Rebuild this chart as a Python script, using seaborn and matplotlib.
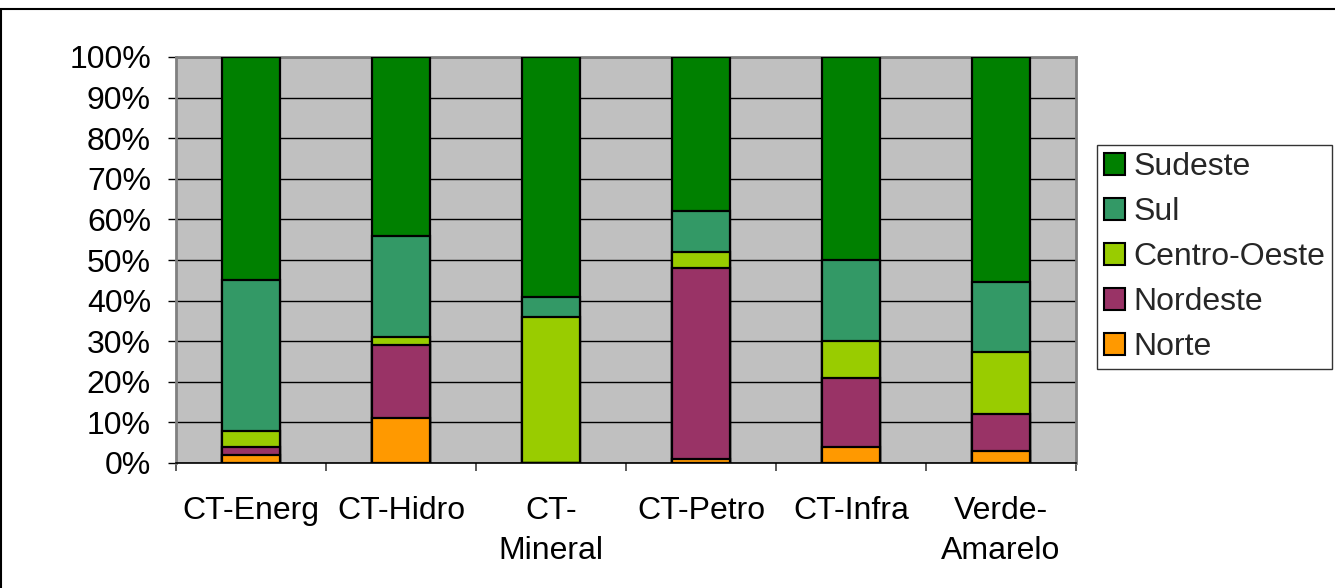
import matplotlib
matplotlib.use("Agg")
import matplotlib.pyplot as plt
from matplotlib.lines import Line2D
from matplotlib.patches import Patch
import seaborn as sns
import pandas as pd
import numpy as np

categories = ["CT-Energ", "CT-Hidro", "CT-\nMineral", "CT-Petro", "CT-Infra", "Verde-\nAmarelo"]
norte = [2, 11, 0, 1, 4, 3]
nordeste = [2, 18, 0, 47, 17, 9]
centro_oeste = [4, 2, 36, 4, 9, 15.4]
sul = [37, 25, 5, 10, 20, 17.3]
sudeste = [55, 44, 59, 38, 50, 55.3]

series_names = ["Norte", "Nordeste", "Centro-Oeste", "Sul", "Sudeste"]
series_vals = [norte, nordeste, centro_oeste, sul, sudeste]
colors = {"Norte": "#FF9900", "Nordeste": "#993366", "Centro-Oeste": "#99CC00",
          "Sul": "#339966", "Sudeste": "#008000"}

sns.set_theme(style="white")
plt.rcParams["font.family"] = ["Liberation Sans", "DejaVu Sans"]

FS = 23

fig = plt.figure(figsize=(13.35, 5.88), dpi=100)
ax = fig.add_axes([176/1335, 1-463/588, 900/1335, 406/588])
ax.set_facecolor("#C0C0C0")

vals = np.array(series_vals, dtype=float)
totals = vals.sum(axis=0)
cum = np.cumsum(vals, axis=0)
cum_pct = cum / totals * 100

# draw cumulative bars from top layer to bottom layer
for i in range(len(series_names) - 1, -1, -1):
    df = pd.DataFrame({"cat": categories, "v": cum_pct[i]})
    sns.barplot(data=df, x="cat", y="v", color=colors[series_names[i]],
                saturation=1, width=0.39, edgecolor="black", linewidth=1.6,
                ax=ax, zorder=3, errorbar=None)

ax.set_xlim(-0.5, len(categories) - 0.5)
ax.set_ylim(0, 100)
ax.set_xlabel("")
ax.set_ylabel("")

yt = np.arange(0, 101, 10)
ax.set_yticks(yt)
ax.set_yticklabels([f"{t}%" for t in yt], fontsize=FS)
ax.yaxis.grid(True, color="black", linewidth=1.0, zorder=1)
ax.set_axisbelow(True)
ax.tick_params(axis="y", which="major", length=6, width=1, color="black",
               pad=12, left=True, labelcolor="black")

ax.set_xticks(np.arange(-0.5, len(categories), 1.0))
ax.set_xticklabels([])
ax.set_xticks(np.arange(len(categories)), minor=True)
ax.set_xticklabels(categories, minor=True, fontsize=FS, linespacing=1.42)
ax.tick_params(axis="x", which="major", length=6, width=1.2, color="#404040", bottom=True)
ax.tick_params(axis="x", which="minor", length=0, pad=24, labelcolor="black")

for s in ["left", "top", "right"]:
    ax.spines[s].set_color("#808080")
    ax.spines[s].set_linewidth(2)
    ax.spines[s].set_visible(True)
ax.spines["bottom"].set_color("black")
ax.spines["bottom"].set_linewidth(1.2)

legend_order = ["Sudeste", "Sul", "Centro-Oeste", "Nordeste", "Norte"]
handles = [Patch(facecolor=colors[n], edgecolor="black", linewidth=1.5) for n in legend_order]
leg = fig.legend(handles, legend_order, loc="upper left",
                 bbox_to_anchor=(1097/1335, 1-145/588), bbox_transform=fig.transFigure,
                 fontsize=FS, frameon=True, fancybox=False, shadow=False,
                 handlelength=0.66, handleheight=0.66, handletextpad=0.25,
                 labelspacing=0.47, borderpad=0.22, borderaxespad=0)
leg.get_frame().set_edgecolor("black")
leg.get_frame().set_linewidth(1.0)
leg.get_frame().set_facecolor("white")

fig.add_artist(Line2D([0, 1], [1-9/588, 1-9/588], color="black", linewidth=1.5,
                      transform=fig.transFigure))
fig.add_artist(Line2D([1/1335, 1/1335], [0, 1-9/588], color="black", linewidth=1.5,
                      transform=fig.transFigure))

fig.savefig("out.png", dpi=100, facecolor="white")
